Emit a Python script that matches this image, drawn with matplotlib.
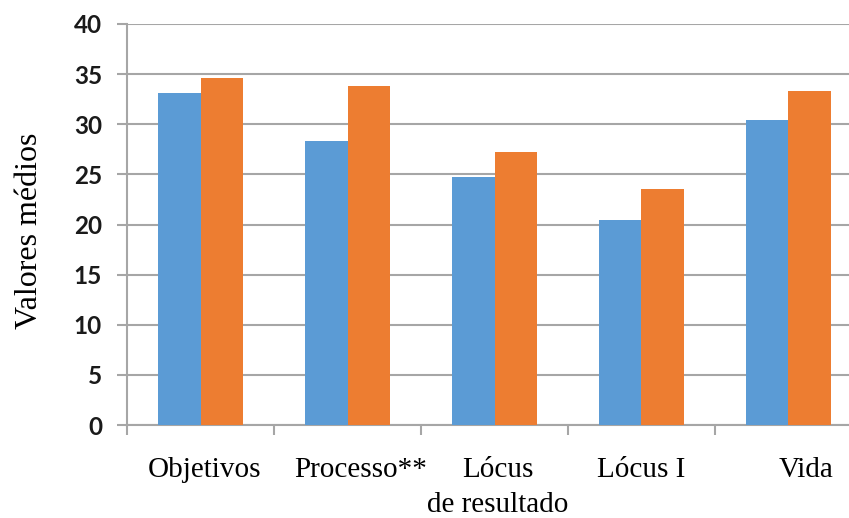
import numpy as np
import matplotlib.pyplot as plt

categories = ["Objetivos", "Processo**", "Lócus\nde resultado", "Lócus I", "Vida"]
grupo_a = [33.1, 28.3, 24.7, 20.4, 30.4]
grupo_b = [34.6, 33.8, 27.2, 23.5, 33.3]
yticks = [0, 5, 10, 15, 20, 25, 30, 35, 40]

blue = "#5B9BD5"
orange = "#ED7D31"
gray = "#A6A6A6"

fig = plt.figure(figsize=(8.49, 5.18), dpi=100)
ax = fig.add_axes([0.1496, 0.1795, 0.8657, 0.7742])

x = np.arange(len(categories))
w = 0.286
ax.bar(x - w / 2, grupo_a, width=w, color=blue, zorder=3)
ax.bar(x + w / 2, grupo_b, width=w, color=orange, zorder=3)

ax.set_xlim(-0.5, len(categories) - 0.5)
ax.set_ylim(0, 40)
ax.set_yticks(yticks)
ax.yaxis.grid(True, color=gray, linewidth=1.5, zorder=0)
ax.set_axisbelow(True)

for side in ["top", "right"]:
    ax.spines[side].set_visible(False)
for side in ["left", "bottom"]:
    ax.spines[side].set_color(gray)
    ax.spines[side].set_linewidth(1.5)

ax.tick_params(axis="y", length=7, width=1.5, color=gray, pad=11,
               labelsize=17.5, labelcolor="#1a1a1a")
for lab in ax.get_yticklabels():
    lab.set_family("Lato")
    lab.set_fontweight("bold")

# category separators as tick marks, labels drawn by hand below
ax.set_xticks(np.arange(len(categories) + 1) - 0.5)
ax.set_xticklabels([])
ax.tick_params(axis="x", length=7, width=1.5, color=gray)

offsets = [0.03, 0.09, 0.02, 0.0, 0.12]
for i, (name, dx) in enumerate(zip(categories, offsets)):
    ax.text(i + dx, -3.2, name, ha="center", va="top", fontsize=21,
            family="Liberation Serif", linespacing=1.45, clip_on=False)

fig.text(0.035, 1 - 231 / 518, "Valores médios", rotation=90, ha="center",
         va="center", fontsize=23, family="Liberation Serif")

fig.savefig("out.png", dpi=100)
